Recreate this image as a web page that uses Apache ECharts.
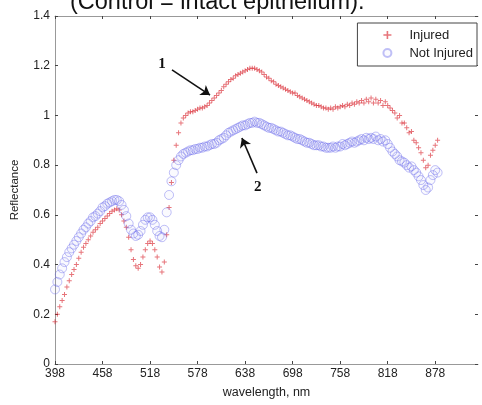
<!DOCTYPE html>
<html>
<head>
<meta charset="utf-8">
<script src="https://cdn.jsdelivr.net/npm/echarts@6/dist/echarts.min.js"></script>
<style>
html, body { margin: 0; padding: 0; background: #fff; }
#chart { width: 482px; height: 405px; }
</style>
</head>
<body>
<div id="chart"></div>
<script>
// wavelength samples, nm
var wavelength = [
    398, 401, 404, 407, 410, 413, 416, 419, 422, 425, 428, 431, 434, 437, 440, 443, 446, 449, 452, 455,
    458, 461, 464, 467, 470, 473, 476, 479, 482, 485, 488, 491, 494, 497, 500, 503, 506, 509, 512, 515,
    518, 521, 524, 527, 530, 533, 536, 539, 542, 545, 548, 551, 554, 557, 560, 563, 566, 569, 572, 575,
    578, 581, 584, 587, 590, 593, 596, 599, 602, 605, 608, 611, 614, 617, 620, 623, 626, 629, 632, 635,
    638, 641, 644, 647, 650, 653, 656, 659, 662, 665, 668, 671, 674, 677, 680, 683, 686, 689, 692, 695,
    698, 701, 704, 707, 710, 713, 716, 719, 722, 725, 728, 731, 734, 737, 740, 743, 746, 749, 752, 755,
    758, 761, 764, 767, 770, 773, 776, 779, 782, 785, 788, 791, 794, 797, 800, 803, 806, 809, 812, 815,
    818, 821, 824, 827, 830, 833, 836, 839, 842, 845, 848, 851, 854, 857, 860, 863, 866, 869, 872, 875,
    878, 881
];

var injured = [
    0.17, 0.20, 0.23, 0.255, 0.28, 0.31, 0.335, 0.36, 0.38, 0.40, 0.425, 0.45, 0.47, 0.485, 0.50, 0.515, 0.53, 0.54, 0.55, 0.565,
    0.575, 0.585, 0.595, 0.605, 0.615, 0.62, 0.625, 0.62, 0.60, 0.575, 0.55, 0.51, 0.46, 0.42, 0.395, 0.385, 0.40, 0.43, 0.46, 0.485,
    0.495, 0.485, 0.46, 0.43, 0.39, 0.37, 0.41, 0.52, 0.63, 0.73, 0.82, 0.88, 0.93, 0.97, 0.99, 1.00, 1.01, 1.015, 1.015, 1.02,
    1.025, 1.03, 1.03, 1.035, 1.04, 1.05, 1.06, 1.07, 1.08, 1.09, 1.10, 1.115, 1.125, 1.135, 1.145, 1.15, 1.16, 1.165, 1.17, 1.175,
    1.18, 1.185, 1.19, 1.19, 1.19, 1.185, 1.18, 1.175, 1.165, 1.155, 1.15, 1.14, 1.135, 1.125, 1.12, 1.115, 1.11, 1.105, 1.10, 1.095,
    1.09, 1.09, 1.08, 1.075, 1.07, 1.065, 1.06, 1.055, 1.05, 1.045, 1.04, 1.04, 1.035, 1.03, 1.03, 1.025, 1.03, 1.025, 1.035, 1.03,
    1.035, 1.04, 1.035, 1.045, 1.04, 1.05, 1.045, 1.055, 1.05, 1.06, 1.05, 1.065, 1.055, 1.07, 1.05, 1.065, 1.05, 1.06, 1.04, 1.055,
    1.04, 1.03, 1.02, 1.01, 0.99, 1.00, 0.97, 0.97, 0.95, 0.93, 0.935, 0.90, 0.89, 0.87, 0.85, 0.82, 0.79, 0.80, 0.84, 0.86,
    0.88, 0.90
];

var notInjured = [
    0.30, 0.33, 0.36, 0.385, 0.41, 0.43, 0.45, 0.465, 0.48, 0.495, 0.51, 0.525, 0.54, 0.55, 0.565, 0.575, 0.59, 0.595, 0.605, 0.615,
    0.63, 0.635, 0.645, 0.65, 0.655, 0.66, 0.66, 0.655, 0.64, 0.62, 0.595, 0.565, 0.54, 0.525, 0.515, 0.52, 0.535, 0.56, 0.58, 0.59,
    0.59, 0.58, 0.56, 0.535, 0.515, 0.51, 0.54, 0.61, 0.68, 0.735, 0.77, 0.80, 0.82, 0.835, 0.845, 0.85, 0.855, 0.86, 0.86, 0.865,
    0.865, 0.87, 0.87, 0.875, 0.875, 0.88, 0.885, 0.885, 0.89, 0.90, 0.905, 0.91, 0.92, 0.93, 0.935, 0.94, 0.945, 0.95, 0.955, 0.96,
    0.96, 0.965, 0.97, 0.97, 0.975, 0.97, 0.97, 0.965, 0.96, 0.955, 0.95, 0.95, 0.945, 0.94, 0.935, 0.935, 0.93, 0.925, 0.92, 0.92,
    0.915, 0.91, 0.905, 0.905, 0.90, 0.895, 0.89, 0.89, 0.885, 0.88, 0.88, 0.88, 0.875, 0.875, 0.87, 0.87, 0.87, 0.875, 0.87, 0.875,
    0.875, 0.885, 0.88, 0.885, 0.89, 0.895, 0.89, 0.895, 0.90, 0.905, 0.90, 0.91, 0.905, 0.91, 0.905, 0.915, 0.90, 0.905, 0.895, 0.90,
    0.885, 0.87, 0.855, 0.845, 0.835, 0.82, 0.815, 0.81, 0.80, 0.79, 0.795, 0.78, 0.77, 0.755, 0.74, 0.72, 0.70, 0.71, 0.74, 0.76,
    0.78, 0.77
];

var xTicks = [398, 458, 518, 578, 638, 698, 758, 818, 878];

// annotation arrows (data coords): [from, to]
var arrow1 = [[545.7, 1.183], [593.7, 1.082]];
var arrow2 = [[653, 0.768], [634, 0.909]];
var label1 = [533, 1.207];
var label2 = [654, 0.712];

var plusPath = 'path://M4,0H6V4H10V6H6V10H4V6H0V4H4Z';
var font = '"Liberation Sans", Arial, sans-serif';

var injuredData = wavelength.map(function (w, i) { return [w, injured[i]]; });
var notInjuredData = wavelength.map(function (w, i) { return [w, notInjured[i]]; });

var myChart = echarts.init(document.getElementById('chart'));

var option = {
    animation: false,
    backgroundColor: '#fff',
    grid: { left: 55, right: 4, top: 16, bottom: 41 },
    graphic: [{
        type: 'text',
        x: 70,
        y: -9,
        style: {
            text: '(Control = intact epithelium).',
            font: '23.5px ' + font,
            fill: '#111',
            verticalAlign: 'top',
            align: 'left'
        }
    }],
    legend: {
        data: ['Injured', 'Not Injured'],
        orient: 'vertical',
        right: 5,
        top: 23,
        padding: [5, 4, 6, 25],
        itemWidth: 8,
        itemHeight: 8,
        itemGap: 4,
        borderColor: '#444',
        borderWidth: 1,
        borderRadius: 0,
        backgroundColor: '#fff',
        textStyle: { fontSize: 13, fontFamily: font, color: '#222', lineHeight: 14, padding: [0, 0, 0, 13] }
    },
    xAxis: [{
        type: 'value',
        min: 398,
        max: 932,
        interval: 60,
        position: 'bottom',
        name: 'wavelength, nm',
        nameLocation: 'middle',
        nameGap: 22,
        nameTextStyle: { fontSize: 12.5, fontFamily: font, color: '#222' },
        axisLine: { show: true, onZero: false, lineStyle: { color: '#999', width: 1 } },
        axisTick: { show: true, inside: true, length: 3, customValues: xTicks, lineStyle: { color: '#444' } },
        axisLabel: { fontSize: 12, fontFamily: font, color: '#222', margin: 4, customValues: xTicks },
        splitLine: { show: false }
    }, {
        type: 'value',
        min: 398,
        max: 932,
        interval: 60,
        position: 'top',
        axisLine: { show: true, onZero: false, lineStyle: { color: '#999', width: 1 } },
        axisTick: { show: true, inside: true, length: 3, customValues: xTicks, lineStyle: { color: '#444' } },
        axisLabel: { show: false },
        splitLine: { show: false }
    }],
    yAxis: [{
        type: 'value',
        min: 0,
        max: 1.4,
        interval: 0.2,
        position: 'left',
        name: 'Reflectance',
        nameLocation: 'middle',
        nameGap: 34,
        nameTextStyle: { fontSize: 11.5, fontFamily: font, color: '#222' },
        axisLine: { show: true, onZero: false, lineStyle: { color: '#999', width: 1 } },
        axisTick: { show: true, inside: true, length: 3, lineStyle: { color: '#444' } },
        axisLabel: { fontSize: 12, fontFamily: font, color: '#222', margin: 5 },
        splitLine: { show: false }
    }, {
        type: 'value',
        min: 0,
        max: 1.4,
        interval: 0.2,
        position: 'right',
        axisLine: { show: false, onZero: false },
        axisTick: { show: true, inside: true, length: 3, lineStyle: { color: '#444' } },
        axisLabel: { show: false },
        splitLine: { show: false }
    }],
    series: [{
        name: 'Injured',
        type: 'scatter',
        symbol: plusPath,
        symbolSize: 5,
        itemStyle: { color: 'rgba(215,25,35,0.75)' },
        data: injuredData,
        markLine: {
            silent: true,
            symbol: ['none', 'arrow'],
            symbolSize: 9,
            lineStyle: { color: '#111', width: 1.6, type: 'solid' },
            label: { show: false },
            data: [
                [{ coord: arrow1[0] }, { coord: arrow1[1] }],
                [{ coord: arrow2[0] }, { coord: arrow2[1] }]
            ]
        },
        markPoint: {
            silent: true,
            symbol: 'circle',
            symbolSize: 1,
            itemStyle: { color: 'rgba(0,0,0,0)' },
            label: {
                show: true,
                position: 'inside',
                formatter: function (p) { return p.name; },
                fontFamily: '"Liberation Serif", "Times New Roman", serif',
                fontWeight: 'bold',
                fontSize: 15,
                color: '#111'
            },
            data: [
                { name: '1', coord: label1 },
                { name: '2', coord: label2 }
            ]
        }
    }, {
        name: 'Not Injured',
        type: 'scatter',
        symbol: 'circle',
        symbolSize: 9,
        itemStyle: { color: 'rgba(120,120,240,0.05)', borderColor: 'rgba(100,100,235,0.5)', borderWidth: 1 },
        data: notInjuredData
    }]
};

myChart.setOption(option);
</script>
</body>
</html>
